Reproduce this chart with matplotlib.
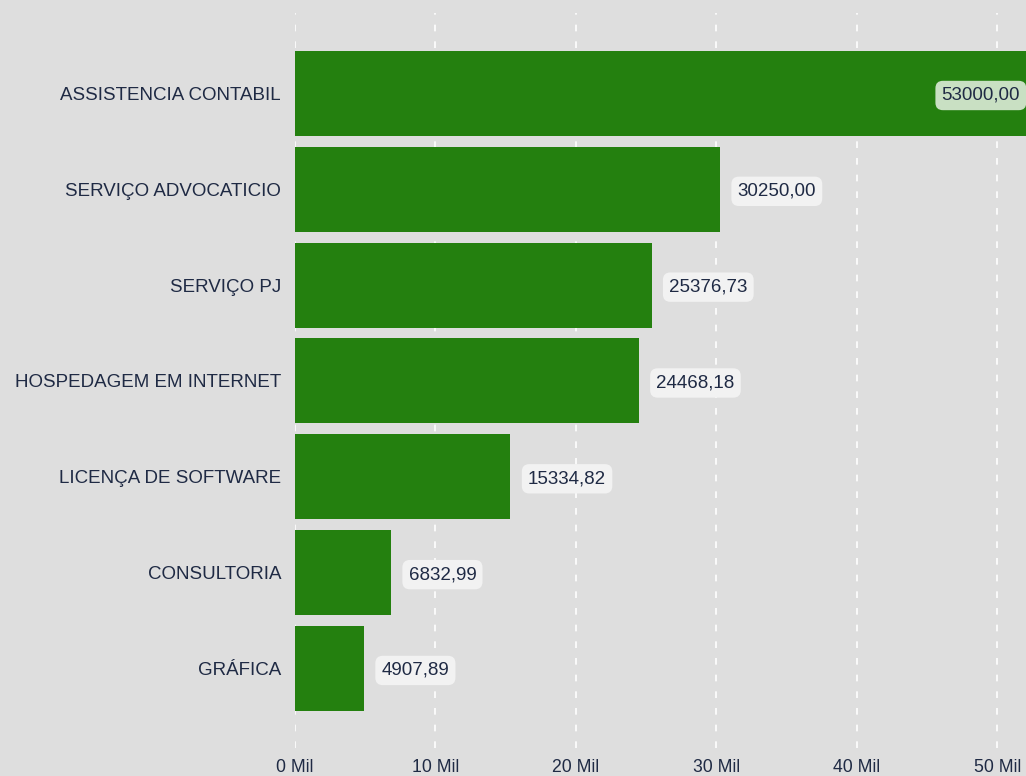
import matplotlib.pyplot as plt

# Data
categories = ['ASSISTENCIA CONTABIL', 'SERVIÇO ADVOCATICIO', 'SERVIÇO PJ',
              'HOSPEDAGEM EM INTERNET', 'LICENÇA DE SOFTWARE', 'CONSULTORIA', 'GRÁFICA']
values = [53000.00, 30250.00, 25376.73, 24468.18, 15334.82, 6832.99, 4907.89]
xticks = [0, 10000, 20000, 30000, 40000, 50000]
xtick_labels = ['0 Mil', '10 Mil', '20 Mil', '30 Mil', '40 Mil', '50 Mil']

bg = '#dedede'
bar_color = '#24800f'
text_color = '#1f2a44'

plt.rcParams['font.family'] = ['Liberation Sans', 'DejaVu Sans']

fig = plt.figure(figsize=(10.26, 7.76), dpi=100, facecolor=bg)
ax = fig.add_axes([295 / 1026, 1 - 748 / 776, 1 - 295 / 1026, (748 - 13) / 776])
ax.set_facecolor(bg)

ypos = list(range(len(categories)))
ax.barh(ypos, values, height=0.887, color=bar_color, zorder=2)

xmax = 52030
ax.set_xlim(0, xmax)
ax.set_ylim(6.83, -0.84)

# dashed white grid lines
for xt in xticks:
    ax.axvline(xt, color='white', linestyle=(0, (4, 6)), linewidth=1.2, zorder=1)

ax.set_xticks(xticks)
ax.set_xticklabels(xtick_labels, fontsize=12.7, color=text_color)
ax.set_yticks(ypos)
ax.set_yticklabels(categories, fontsize=13.5, color=text_color)
ax.tick_params(axis='both', length=0)
ax.tick_params(axis='y', pad=10)
ax.tick_params(axis='x', pad=8)
for s in ax.spines.values():
    s.set_visible(False)

# value labels
for y, v in zip(ypos, values):
    txt = f'{v:.2f}'.replace('.', ',')
    if v > xmax * 0.9:
        ax.text(xmax - 420, y, txt, ha='right', va='center_baseline', fontsize=13.5,
                color=text_color, zorder=3, clip_on=False,
                bbox=dict(boxstyle='round,pad=0.33,rounding_size=0.4', fc='#c9e0c3', ec='none'))
    else:
        ax.text(v + 1250, y, txt, ha='left', va='center_baseline', fontsize=13.5,
                color=text_color, zorder=3,
                bbox=dict(boxstyle='round,pad=0.33,rounding_size=0.4', fc='#f2f2f2', ec='none'))

plt.savefig('out.png', dpi=100, facecolor=bg)
